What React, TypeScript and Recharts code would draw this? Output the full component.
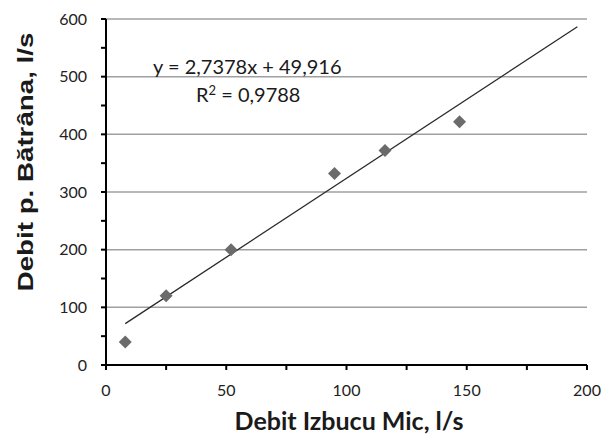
import React from "react";
import {
  ScatterChart,
  Scatter,
  XAxis,
  YAxis,
  CartesianGrid,
  Customized,
} from "recharts";

// Izbucu Mic (x) vs p. Bătrâna (y), l/s
const izbucuMic = [8, 25, 52, 95, 116, 147];
const batrana = [40, 120, 200, 332, 372, 422];

// trend line shown in the chart
const slope = 2.7378;
const intercept = 49.916;
const rSquared = "0,9788";
const trendX = [8, 196];

const xTicks = [0, 25, 50, 75, 100, 125, 150, 175, 200];
const xLabelTicks = [0, 50, 100, 150, 200];
const yTicks = [0, 50, 100, 150, 200, 250, 300, 350, 400, 450, 500, 550, 600];
const yLabelTicks = [0, 100, 200, 300, 400, 500, 600];
const gridValues = [100, 200, 300, 400, 500, 600];

const points = izbucuMic.map((x, i) => ({ x, y: batrana[i] }));
const trend = trendX.map((x) => ({ x, y: slope * x + intercept }));

const Diamond = (props: any) => {
  const { cx, cy } = props;
  const r = 6.5;
  return (
    <polygon
      points={`${cx},${cy - r} ${cx + r},${cy} ${cx},${cy + r} ${cx - r},${cy}`}
      fill="#6b6b6b"
    />
  );
};

const NoDot = () => <g />;

const tickFont = { fontFamily: "Lato", fontSize: 16, fill: "#222" };

const Texts = () => (
  <g fill="#1a1a1a">
    <text x={153} y={74} fontFamily="Lato" fontSize={20}>
      y = 2,7378x + 49,916
    </text>
    <text x={196} y={102} fontFamily="Lato" fontSize={20}>
      R<tspan dy={-7} fontSize={13}>2</tspan>
      <tspan dy={7}> = {rSquared}</tspan>
    </text>
    <text
      x={349}
      y={430}
      textAnchor="middle"
      fontFamily="Lato"
      fontWeight="bold"
      fontSize={25}
    >
      Debit Izbucu Mic, l/s
    </text>
    <text
      transform="translate(33,162) rotate(-90) scale(1.26,1)"
      textAnchor="middle"
      fontFamily="Liberation Sans"
      fontWeight="bold"
      fontSize={22}
    >
      Debit p. Bătrâna, l/s
    </text>
  </g>
);

export default function App() {
  return (
    <div style={{ position: "absolute", left: 0, top: 0, background: "#fff" }}>
      <ScatterChart
        width={603}
        height={439}
        margin={{ top: 19, right: 16, left: 0, bottom: 0 }}
      >
        <CartesianGrid
          vertical={false}
          horizontalValues={gridValues}
          stroke="#a0a0a0"
          strokeWidth={1.5}
        />
        <XAxis
          type="number"
          dataKey="x"
          domain={[0, 200]}
          ticks={xTicks}
          interval={0}
          height={74}
          axisLine={{ stroke: "#000", strokeWidth: 2 }}
          tickLine={{ stroke: "#000", strokeWidth: 2 }}
          tickSize={5}
          tickMargin={15}
          tick={tickFont}
          tickFormatter={(v: number) => (xLabelTicks.includes(v) ? String(v) : "")}
        />
        <YAxis
          type="number"
          dataKey="y"
          domain={[0, 600]}
          ticks={yTicks}
          interval={0}
          width={106}
          axisLine={{ stroke: "#000", strokeWidth: 2 }}
          tickLine={{ stroke: "#000", strokeWidth: 2 }}
          tickSize={5}
          tickMargin={14}
          tick={tickFont}
          tickFormatter={(v: number) => (yLabelTicks.includes(v) ? String(v) : "")}
        />
        <Scatter
          data={trend}
          line={{ stroke: "#2a2a2a", strokeWidth: 1.3 }}
          shape={NoDot}
          isAnimationActive={false}
        />
        <Scatter data={points} shape={Diamond} isAnimationActive={false} />
        <Customized component={Texts} />
      </ScatterChart>
    </div>
  );
}
